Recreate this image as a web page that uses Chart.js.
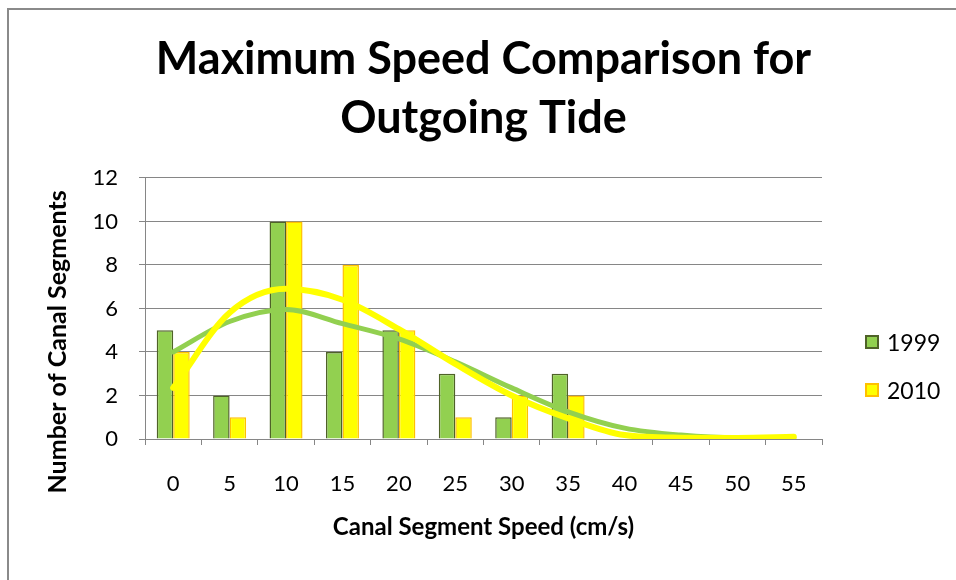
<!DOCTYPE html>
<html>
<head>
<meta charset="utf-8">
<script src="https://cdn.jsdelivr.net/npm/chart.js@4.4.1/dist/chart.umd.min.js"></script>
<style>
    body { margin: 0; background: #fff; font-family: Lato, sans-serif; }
    #frame {
        position: absolute; left: 7px; top: 8px; width: 1000px; height: 700px;
        border: 2px solid #8a8a8a; box-sizing: border-box;
    }
    #wrap { position: absolute; left: 0; top: 0; width: 956px; height: 580px; }
    #legend { position: absolute; left: 865px; top: 318px; font-size: 23px; color: #000; }
    #legend .item { display: flex; align-items: center; height: 48px; }
    #legend .box { width: 14px; height: 14px; box-sizing: border-box; border: 2px solid; margin-right: 8px; }
</style>
</head>
<body>
<div id="frame"></div>
<div id="wrap"><canvas id="myChart" width="956" height="580"></canvas></div>
<div id="legend"></div>
<script>
// speed bins (cm/s)
var speeds = ['0', '5', '10', '15', '20', '25', '30', '35', '40', '45', '50', '55'];
// number of canal segments per bin
var counts1999 = [5, 2, 10, 4, 5, 3, 1, 3, 0, 0, 0, 0];
var counts2010 = [4, 1, 10, 8, 5, 1, 2, 2, 0, 0, 0, 0];
// trend curves
var trend1999 = [4.0, 5.4, 5.95, 5.3, 4.6, 3.55, 2.35, 1.25, 0.5, 0.18, 0.06, 0.06];
var trend2010 = [2.35, 5.8, 6.9, 6.4, 5.05, 3.45, 2.0, 0.95, 0.18, 0.06, 0.05, 0.1];
var yTicks = [0, 2, 4, 6, 8, 10, 12];

var green = '#92D050', greenEdge = '#4F6228';
var yellow = '#FFFF00', yellowEdge = '#FFC000';
var gridGrey = '#868686';

// the y title sits a bit below the middle of the axis, pad its end
var yTitle = 'Number of Canal Segments' + '\u00a0'.repeat(11);

var ctx = document.getElementById('myChart');
var myChart = new Chart(ctx, {
    type: 'bar',
    data: {
        labels: speeds,
        datasets: [{
            type: 'line',
            label: 'trend 2010',
            data: trend2010,
            borderColor: yellow,
            borderWidth: 6,
            borderCapStyle: 'round',
            cubicInterpolationMode: 'monotone',
            pointRadius: 0,
            order: 1
        }, {
            type: 'line',
            label: 'trend 1999',
            data: trend1999,
            borderColor: green,
            borderWidth: 5,
            borderCapStyle: 'round',
            cubicInterpolationMode: 'monotone',
            pointRadius: 0,
            order: 2
        }, {
            label: '1999',
            data: counts1999,
            backgroundColor: green,
            borderColor: greenEdge,
            borderWidth: 1.5,
            order: 3
        }, {
            label: '2010',
            data: counts2010,
            backgroundColor: yellow,
            borderColor: yellowEdge,
            borderWidth: 1.5,
            order: 3
        }]
    },
    options: {
        responsive: false,
        animation: false,
        categoryPercentage: 0.585,
        barPercentage: 1,
        layout: {
            padding: { left: 10, right: 134, top: 10, bottom: 20 }
        },
        plugins: {
            legend: { display: false },
            tooltip: { enabled: false },
            title: {
                display: true,
                fullSize: false,
                text: ['Maximum Speed Comparison for', 'Outgoing Tide'],
                color: '#000',
                font: { family: 'Lato', size: 45, weight: 'bold', lineHeight: 1.31 },
                padding: { top: 20, bottom: 30 }
            }
        },
        scales: {
            x: {
                offset: true,
                grid: {
                    display: true,
                    offset: true,
                    drawOnChartArea: false,
                    color: gridGrey,
                    tickLength: 6
                },
                border: { color: gridGrey },
                ticks: {
                    color: '#000',
                    padding: 26,
                    font: { family: 'Lato', size: 22 }
                },
                title: {
                    display: true,
                    text: 'Canal Segment Speed (cm/s)',
                    color: '#000',
                    font: { family: 'Lato', size: 24, weight: 'bold' },
                    padding: { top: 0, bottom: 18 }
                },
                afterFit: function (scale) { scale.height = 121; }
            },
            y: {
                min: 0,
                max: 12,
                afterBuildTicks: function (scale) {
                    scale.ticks = yTicks.map(function (v) { return { value: v }; });
                },
                grid: {
                    color: gridGrey,
                    tickLength: 6
                },
                border: { color: gridGrey },
                ticks: {
                    color: '#000',
                    padding: 21,
                    font: { family: 'Lato', size: 22 }
                },
                title: {
                    display: true,
                    text: yTitle,
                    color: '#000',
                    font: { family: 'Lato', size: 25, weight: 'bold' },
                    padding: { top: 33, bottom: 0 }
                },
                afterFit: function (scale) { scale.width = 135; }
            }
        }
    }
});

// legend for the bar series only
var legendEl = document.getElementById('legend');
myChart.data.datasets.filter(function (ds) { return ds.type !== 'line'; }).forEach(function (ds) {
    var item = document.createElement('div');
    item.className = 'item';
    item.innerHTML = '<span class="box" style="background:' + ds.backgroundColor +
        ';border-color:' + ds.borderColor + '"></span>' + ds.label;
    legendEl.appendChild(item);
});
</script>
</body>
</html>
